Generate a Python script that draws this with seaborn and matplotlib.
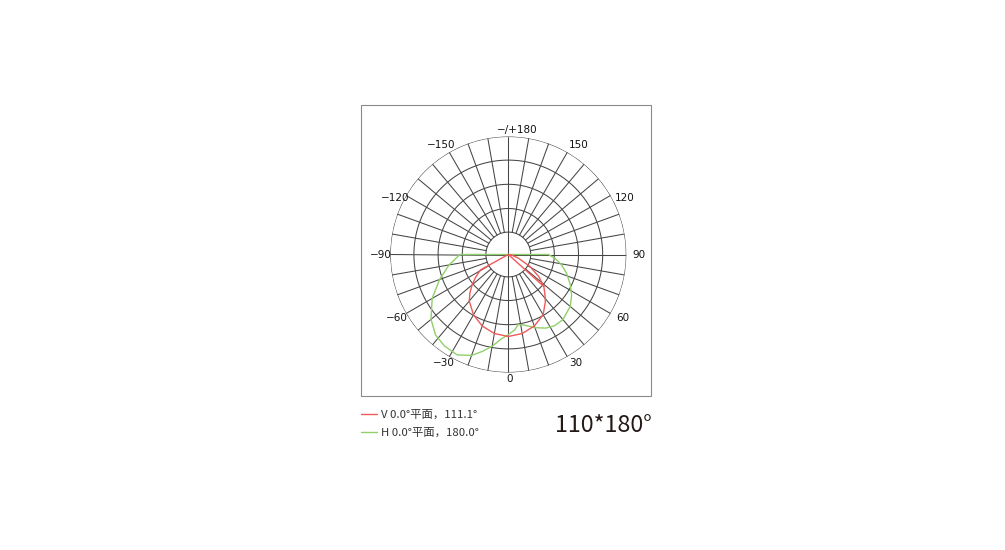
import numpy as np
import pandas as pd
import seaborn as sns
import matplotlib.pyplot as plt
from matplotlib.patches import Rectangle
from matplotlib.transforms import offset_copy

# V plane (red) - angle in degrees, relative intensity (outer ring = 1)
red_deg = [48, 90, -61, -55, -50, -45, -40, -30, -20, -10, 0, 10, 20, 30, 38, 42, 48, 54, 61, 70, 80, 90]
red_val = [0.405, 0, 0.27, 0.34, 0.40, 0.46, 0.515, 0.59, 0.645, 0.68, 0.695, 0.68, 0.645, 0.59, 0.51,
           0.465, 0.405, 0.32, 0.21, 0.09, 0.03, 0]

# H plane (green)
green_deg = [-90, -90, -80, -70, -60, -50, -42, -35, -27, -20, -15, -10, -5, 0, 5, 8, 12, 20, 27, 33,
             40, 50, 57, 64, 72, 79, 85, 90, 90]
green_val = [0, 0.41, 0.51, 0.62, 0.745, 0.855, 0.92, 0.945, 0.955, 0.91, 0.85, 0.79, 0.72, 0.68, 0.64,
             0.60, 0.61, 0.66, 0.70, 0.72, 0.72, 0.685, 0.64, 0.585, 0.52, 0.46, 0.40, 0.34, 0]

tick_lbl = ['0', '30', '60', '90', '120', '150', '\u2212/+180',
            '\u2212150', '\u2212120', '\u221290', '\u221260', '\u221230']
# where each angle label sits (angle, radius) - layout only
lbl_pos = [(0, 1.058), (31.5, 1.075), (60.6, 1.10), (90, 1.095), (116, 1.085), (148, 1.095),
           (176.6, 1.057), (-148, 1.095), (-116, 1.085), (-90, 1.095), (-60.6, 1.10), (-31.5, 1.075)]

legend_lbl = ['V 0.0°平面，111.1°', 'H 0.0°平面，180.0°']
title_txt = '110*180°'

red_c = '#f05a5a'
green_c = '#8fd06a'
grid_c = '#454545'

sns.set_style('white')
plt.rcParams['font.family'] = ['Noto Sans CJK SC', 'DejaVu Sans']

fig = plt.figure(figsize=(10.05, 5.5), dpi=100)
W, H = 1005, 550
cx, cy, R = 508.3, 254.5, 118
ax = fig.add_axes([(cx - R) / W, (H - cy - R) / H, 2 * R / W, 2 * R / H], projection='polar')
ax.set_theta_zero_location('S')
ax.set_theta_direction(1)
ax.grid(False)
ax.set_xticks([])
ax.set_yticks([])
ax.spines['polar'].set_visible(False)

# grid: rings and spokes
t = np.linspace(0, 2 * np.pi, 400)
for rr in [0.19, 0.39, 0.595, 0.8, 1.0]:
    ax.plot(t, np.full_like(t, rr), color=grid_c, lw=0.75, zorder=1)
for a in range(0, 360, 10):
    r0 = 0 if a % 90 == 0 else 0.19
    ax.plot([np.deg2rad(a)] * 2, [r0, 1.0], color=grid_c, lw=0.75, zorder=1)

# curves
df_v = pd.DataFrame({'theta': np.deg2rad(red_deg), 'r': red_val})
df_h = pd.DataFrame({'theta': np.deg2rad(green_deg), 'r': green_val})
sns.lineplot(data=df_h, x='theta', y='r', sort=False, estimator=None, color=green_c, lw=1.0, ax=ax, zorder=3)
sns.lineplot(data=df_v, x='theta', y='r', sort=False, estimator=None, color=red_c, lw=1.0, ax=ax, zorder=4)
ax.set_xlabel('')
ax.set_ylabel('')
ax.set_ylim(0, 1)

shift = offset_copy(ax.transData, fig=fig, x=1.1, y=0, units='points')
for (d, rl), lab in zip(lbl_pos, tick_lbl):
    ax.text(np.deg2rad(d), rl, lab, ha='center', va='center', fontsize=7.5, color='#111111',
            family='DejaVu Sans', clip_on=False, transform=shift)

# frame box
fig.add_artist(Rectangle((361 / W, 1 - 396 / H), 290 / W, 291 / H, transform=fig.transFigure,
                         fill=False, ec='#8a8a8a', lw=0.8))

# legend
handles = [plt.Line2D([], [], color=red_c, lw=1.0), plt.Line2D([], [], color=green_c, lw=1.0)]
fig.legend(handles, legend_lbl, loc='upper left', bbox_to_anchor=(361 / W, 1 - 409.5 / H),
           frameon=False, fontsize=8.2, handlelength=1.4, handletextpad=0.35, labelspacing=0.68,
           borderpad=0, borderaxespad=0, labelcolor='#333333')

fig.text(555 / W, 1 - 425 / H, title_txt, fontsize=16.8, color='#231815', va='center', ha='left')

fig.savefig('out.png', dpi=100)
